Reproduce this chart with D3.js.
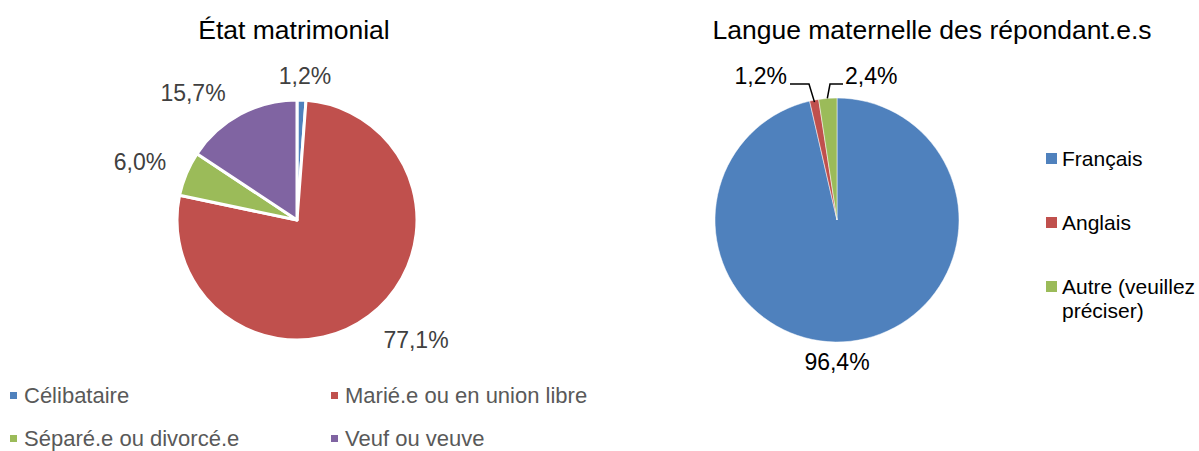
<!DOCTYPE html>
<html><head><meta charset="utf-8">
<script src="https://cdn.jsdelivr.net/npm/d3@7"></script>
<style>body{margin:0;background:#fff}svg{display:block;font-family:Arial,"Liberation Sans",sans-serif}</style>
</head><body>
<svg id="c" width="1199" height="451"></svg>
<script>
const maritalCats = ["Célibataire","Marié.e ou en union libre","Séparé.e ou divorcé.e","Veuf ou veuve"];
const maritalVals = [1.2, 77.1, 6.0, 15.7];
const maritalLabels = ["1,2%","77,1%","6,0%","15,7%"];
const langCats = ["Français","Anglais","Autre (veuillez préciser)"];
const langVals = [96.4, 1.2, 2.4];
const langLabels = ["96,4%","1,2%","2,4%"];
const colors = ["#4F81BD","#C0504D","#9BBB59","#8064A2"];

const svg = d3.select("#c");
const pie = d3.pie().sort(null).value(d=>d);

// Left pie
const g1 = svg.append("g").attr("transform","translate(297,220)");
const arc1 = d3.arc().innerRadius(0).outerRadius(120);
const a1 = pie(maritalVals);
g1.selectAll("path").data(a1).join("path").attr("d",arc1)
  .attr("fill",(d,i)=>colors[i]).attr("stroke","#fff").attr("stroke-width",3).attr("stroke-linejoin","round");
const lblPos1 = [[8,-144],[119,120],[-157,-58],[-104,-127]];
g1.selectAll("text.lbl").data(a1).join("text").attr("class","lbl")
  .attr("x",(d,i)=>lblPos1[i][0]).attr("y",(d,i)=>lblPos1[i][1])
  .attr("text-anchor","middle").attr("dominant-baseline","central")
  .attr("font-size",23).attr("fill","#404040").text((d,i)=>maritalLabels[i]);
svg.append("text").attr("x",294).attr("y",30).attr("text-anchor","middle").attr("dominant-baseline","central")
  .attr("font-size",26.5).attr("fill","#000").text("État matrimonial");

// Left legend
const legPos1 = [[10,395],[331,395],[10,438],[331,438]];
const lg1 = svg.append("g").selectAll("g").data(maritalCats).join("g")
  .attr("transform",(d,i)=>`translate(${legPos1[i][0]},${legPos1[i][1]})`);
lg1.append("rect").attr("x",0).attr("y",-3).attr("width",7).attr("height",7).attr("fill",(d,i)=>colors[i]);
lg1.append("text").attr("x",14).attr("y",0).attr("dominant-baseline","central").attr("font-size",22).attr("fill","#595959").text(d=>d);

// Right pie
const cx2=837, cy2=220, r2=122;
const g2 = svg.append("g").attr("transform",`translate(${cx2},${cy2})`);
const arc2 = d3.arc().innerRadius(0).outerRadius(r2);
const a2 = pie(langVals);
g2.selectAll("path").data(a2).join("path").attr("d",arc2)
  .attr("fill",(d,i)=>colors[i]).attr("stroke","#fff").attr("stroke-width",0.5);
svg.append("text").attr("x",932).attr("y",30).attr("text-anchor","middle").attr("dominant-baseline","central")
  .attr("font-size",26.5).attr("fill","#000").text("Langue maternelle des répondant.e.s");
// labels
svg.append("text").attr("x",cx2).attr("y",362).attr("text-anchor","middle").attr("dominant-baseline","central")
  .attr("font-size",23).attr("fill","#000").text(langLabels[0]);
svg.append("text").attr("x",787).attr("y",76).attr("text-anchor","end").attr("dominant-baseline","central")
  .attr("font-size",23).attr("fill","#000").text(langLabels[1]);
svg.append("text").attr("x",845).attr("y",76).attr("text-anchor","start").attr("dominant-baseline","central")
  .attr("font-size",23).attr("fill","#000").text(langLabels[2]);
// leader lines from arc centroids at outer edge
function edge(d, rr){const m=(d.startAngle+d.endAngle)/2;return [cx2+Math.sin(m)*rr, cy2-Math.cos(m)*rr];}
const e1 = edge(a2[1], r2-2), e2 = edge(a2[2], r2);
svg.append("polyline").attr("points",`790,84 809,84 ${e1[0]},${e1[1]}`).attr("fill","none").attr("stroke","#000").attr("stroke-width",1.5);
svg.append("polyline").attr("points",`843,84 830,84 ${e2[0]-0.5},${e2[1]}`).attr("fill","none").attr("stroke","#000").attr("stroke-width",1.5);

// Right legend
const legY2 = [158,222,286];
const lg2 = svg.append("g").selectAll("g").data(langCats).join("g")
  .attr("transform",(d,i)=>`translate(1046,${legY2[i]})`);
lg2.append("rect").attr("x",0).attr("y",-5).attr("width",11).attr("height",11).attr("fill",(d,i)=>colors[i]);
lg2.each(function(d){
  const t = d3.select(this).append("text").attr("x",16).attr("y",0).attr("dominant-baseline","central").attr("font-size",21).attr("fill","#000");
  if (d.indexOf("(")>0){
    const p = d.split(" ");
    t.append("tspan").attr("x",16).attr("dy",0).text(p[0]+" "+p[1]);
    t.append("tspan").attr("x",16).attr("dy",24).text(p[2]);
  } else t.text(d);
});
</script>
</body></html>
